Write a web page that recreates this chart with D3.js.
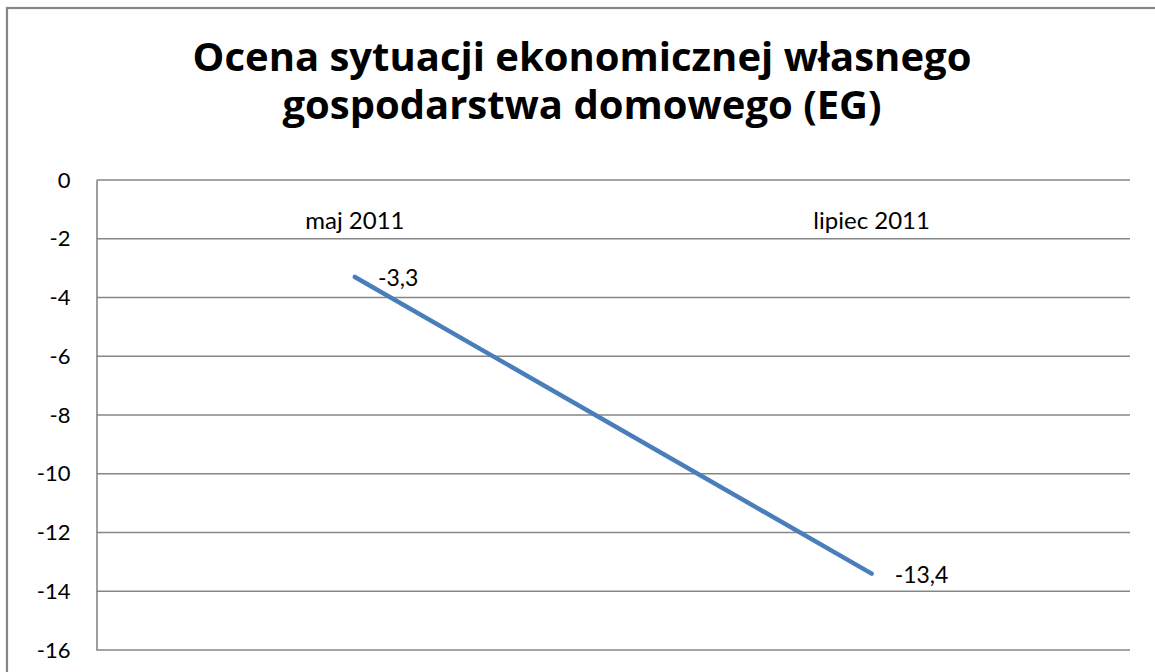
<!DOCTYPE html>
<html>
<head>
<meta charset="utf-8">
<script src="https://cdn.jsdelivr.net/npm/d3@7"></script>
<style>
  html, body { margin: 0; padding: 0; background: #fff; }
  svg { display: block; }
</style>
</head>
<body>
<svg id="chart" width="1155" height="672"></svg>
<script>
const categories = ["maj 2011", "lipiec 2011"];
const values = [-3.3, -13.4];
const valueLabels = ["-3,3", "-13,4"];
const yTicks = [0, -2, -4, -6, -8, -10, -12, -14, -16];
const titleLines = ["Ocena sytuacji ekonomicznej własnego", "gospodarstwa domowego (EG)"];

const W = 1155, H = 672;
const margin = { left: 96.5, right: 1130, top: 180, bottom: 650 };
const svg = d3.select("#chart");
const font = "Lato, 'Open Sans', sans-serif";
const titleFont = "'Open Sans', Lato, sans-serif";
const gray = "#868686";

// outer border
svg.append("rect").attr("x", 7).attr("y", 8).attr("width", 1170).attr("height", 690)
  .attr("fill", "#fff").attr("stroke", gray).attr("stroke-width", 2.2);

// title
svg.append("g").selectAll("text").data(titleLines).join("text")
  .attr("x", 582).attr("y", (d, i) => 71 + i * 48)
  .attr("text-anchor", "middle")
  .attr("font-family", titleFont).attr("font-weight", "bold").attr("font-size", 40)
  .attr("fill", "#000").text(d => d);

const x = d3.scaleBand().domain(categories).range([margin.left, margin.right]);
const y = d3.scaleLinear().domain([0, -16]).range([margin.top, margin.bottom]);

// gridlines
svg.append("g").selectAll("line").data(yTicks).join("line")
  .attr("x1", margin.left).attr("x2", margin.right)
  .attr("y1", d => y(d)).attr("y2", d => y(d))
  .attr("stroke", gray).attr("stroke-width", 1.6);

// y axis
const yAxis = d3.axisLeft(y).tickValues(yTicks).tickSize(0).tickPadding(26)
  .tickFormat(d => d3.format("d")(d).replace("−", "-"));
const gy = svg.append("g").attr("transform", `translate(${margin.left},0)`).call(yAxis);
gy.select(".domain").attr("stroke", gray).attr("stroke-width", 1.6);
gy.selectAll("text").attr("font-family", font).attr("font-size", 22).attr("fill", "#000");

// x axis labels (at 0 line, below it)
const xAxis = d3.axisBottom(x).tickSize(0).tickPadding(32);
const gx = svg.append("g").attr("transform", `translate(0,${y(0)})`).call(xAxis);
gx.select(".domain").remove();
gx.selectAll("text").attr("font-family", font).attr("font-size", 24).attr("fill", "#000");

// line
const pts = categories.map((c, i) => ({ c, v: values[i], lab: valueLabels[i] }));
const line = d3.line().x(d => x(d.c) + x.bandwidth() / 2).y(d => y(d.v));
svg.append("path").datum(pts).attr("d", line)
  .attr("fill", "none").attr("stroke", "#4a7ebb").attr("stroke-width", 4.5)
  .attr("stroke-linecap", "round");

// data labels
svg.append("g").selectAll("text").data(pts).join("text")
  .attr("x", d => x(d.c) + x.bandwidth() / 2 + 23)
  .attr("y", d => y(d.v) + 9)
  .attr("font-family", font).attr("font-size", 23).attr("fill", "#000")
  .text(d => d.lab);
</script>
</body>
</html>
